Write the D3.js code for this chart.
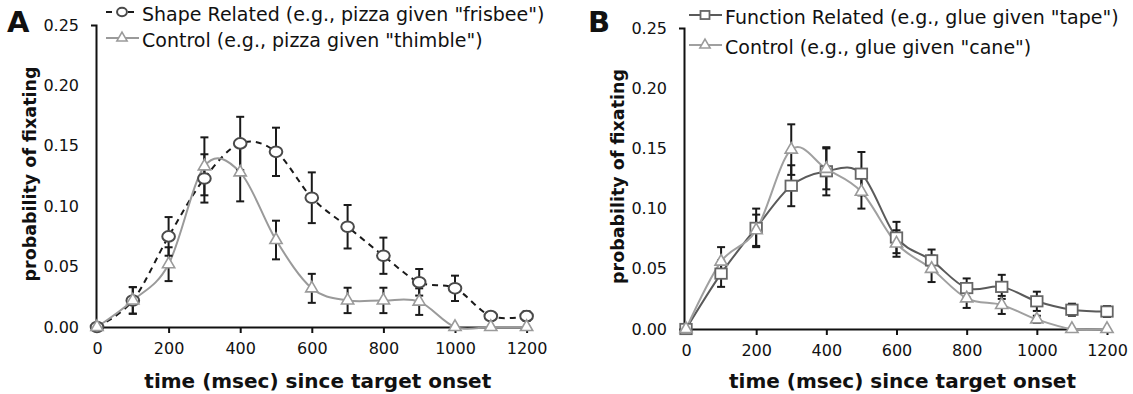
<!DOCTYPE html>
<html>
<meta charset="utf-8">
<style>
  body { margin: 0; background: #fff; }
  text { font-family: "DejaVu Sans", Verdana, sans-serif; fill: #111; }
</style>
<script src="https://d3js.org/d3.v7.min.js"></script>
<body>
<script>
  // time points (msec since target onset)
  var times = [0, 100, 200, 300, 400, 500, 600, 700, 800, 900, 1000, 1100, 1200];
  var xTicks = [0, 200, 400, 600, 800, 1000, 1200];
  var yTicks = [0, 0.05, 0.10, 0.15, 0.20, 0.25];

  // panel A
  var shapeRelated    = [0, 0.022, 0.075, 0.123, 0.152, 0.145, 0.107, 0.083, 0.059, 0.037, 0.032, 0.009, 0.009];
  var shapeRelatedErr = [0, 0.011, 0.016, 0.020, 0.022, 0.020, 0.021, 0.018, 0.015, 0.011, 0.0105, 0.002, 0.004];
  var controlA        = [0, 0.022, 0.052, 0.133, 0.128, 0.072, 0.032, 0.022, 0.022, 0.021, 0, 0, 0];
  var controlAErr     = [0, 0.011, 0.014, 0.024, 0.024, 0.016, 0.012, 0.0105, 0.0105, 0.011, 0, 0, 0];

  // panel B
  var functionRelated    = [0, 0.046, 0.084, 0.119, 0.131, 0.129, 0.076, 0.057, 0.034, 0.035, 0.023, 0.016, 0.0145];
  var functionRelatedErr = [0, 0.011, 0.016, 0.017, 0.020, 0.018, 0.013, 0.009, 0.008, 0.010, 0.008, 0.005, 0.0045];
  var controlB           = [0, 0.056, 0.082, 0.149, 0.133, 0.114, 0.071, 0.050, 0.0255, 0.020, 0.008, 0, 0];
  var controlBErr        = [0, 0.012, 0.013, 0.021, 0.017, 0.014, 0.011, 0.011, 0.008, 0.0075, 0.003, 0, 0];

  var svg = d3.select("body").append("svg")
    .attr("width", 1133)
    .attr("height", 394);

  function marker(sel, kind, size) {
    if (kind == "circle") {
      sel.append("ellipse").attr("rx", size * 0.55).attr("ry", size * 0.46)
        .attr("fill", "#fff").attr("stroke", "#4a4a4a").attr("stroke-width", 2);
    } else if (kind == "square") {
      sel.append("rect").attr("x", -size / 2).attr("y", -size * 0.45)
        .attr("width", size).attr("height", size * 0.9)
        .attr("fill", "#fff").attr("stroke", "#666").attr("stroke-width", 1.8);
    } else {
      sel.append("path").attr("d", d3.symbol(d3.symbolTriangle, size * size * 0.45)())
        .attr("fill", "#fff").attr("stroke", "#9a9a9a").attr("stroke-width", 1.6);
    }
  }

  function drawPanel(p) {
    var x = d3.scaleLinear().domain([0, 1200]).range([p.left, p.right]);
    var y = d3.scaleLinear().domain([0, 0.25]).range([p.bottom, p.top]);
    var g = svg.append("g");

    // axes
    var yAxis = g.append("g")
      .attr("transform", "translate(" + p.axisX + ",0)")
      .call(d3.axisLeft(y).tickValues(yTicks).tickSizeInner(0).tickSizeOuter(5)
        .tickPadding(17).tickFormat(d3.format(".2f")));
    var xAxis = g.append("g")
      .attr("transform", "translate(0," + p.bottom + ")")
      .call(d3.axisBottom(x).tickValues(xTicks).tickSizeInner(6).tickSizeOuter(0)
        .tickPadding(10).tickFormat(d3.format("d")));
    [xAxis, yAxis].forEach(function(a) {
      a.select(".domain").attr("stroke", "#111").attr("stroke-width", 2);
      a.selectAll(".tick line").attr("stroke", "#111").attr("stroke-width", 2);
      a.selectAll(".tick text").attr("font-size", 16).attr("fill", "#111")
        .attr("font-family", "DejaVu Sans, Verdana, sans-serif");
    });
    xAxis.selectAll(".tick line").filter(function(d) { return d === 0; }).remove();

    // titles
    g.append("text")
      .attr("x", p.letterX).attr("y", 32)
      .attr("font-size", 29).attr("font-weight", "bold")
      .text(p.letter);
    g.append("text")
      .attr("transform", "translate(" + (p.axisX - 60) + "," + ((p.top + p.bottom) / 2 - 2) + ") rotate(-90)")
      .attr("text-anchor", "middle")
      .attr("font-size", 17.5).attr("font-weight", "bold")
      .text("probability of fixating");
    g.append("text")
      .attr("x", (p.left + p.right) / 2 + 6).attr("y", 388)
      .attr("text-anchor", "middle")
      .attr("font-size", 20).attr("font-weight", "bold")
      .text("time (msec) since target onset");

    var line = d3.line()
      .x(function(d) { return x(d[0]); })
      .y(function(d) { return y(d[1]); })
      .curve(d3.curveCardinal.tension(0));

    p.series.forEach(function(s) {
      var pts = times.map(function(t, i) { return [t, s.values[i], s.err[i]]; });

      g.append("path")
        .datum(pts)
        .attr("d", line)
        .attr("fill", "none")
        .attr("stroke", s.lineColor)
        .attr("stroke-width", s.lineWidth)
        .attr("stroke-dasharray", s.dash);
    });

    p.series.forEach(function(s) {
      var pts = times.map(function(t, i) { return [t, s.values[i], s.err[i]]; });
      var eb = g.append("g").selectAll("g")
        .data(pts.filter(function(d) { return d[2] > 0; }))
        .enter().append("g")
        .attr("stroke", "#1a1a1a").attr("stroke-width", 2);
      eb.append("line")
        .attr("x1", function(d) { return x(d[0]); })
        .attr("x2", function(d) { return x(d[0]); })
        .attr("y1", function(d) { return y(d[1] - d[2]); })
        .attr("y2", function(d) { return y(d[1] + d[2]); });
      [-1, 1].forEach(function(sign) {
        eb.append("line")
          .attr("x1", function(d) { return x(d[0]) - 4; })
          .attr("x2", function(d) { return x(d[0]) + 4; })
          .attr("y1", function(d) { return y(d[1] + sign * d[2]); })
          .attr("y2", function(d) { return y(d[1] + sign * d[2]); });
      });
    });

    p.series.forEach(function(s) {
      times.forEach(function(t, i) {
        var m = g.append("g").attr("transform", "translate(" + x(t) + "," + y(s.values[i]) + ")");
        marker(m, s.kind, s.kind == "triangle" ? 12 : 11.5);
      });
    });

    // legend
    p.series.forEach(function(s, i) {
      var ly = p.legendY[i];
      g.append("line")
        .attr("x1", p.legendX).attr("x2", p.legendX + 33)
        .attr("y1", ly).attr("y2", ly)
        .attr("stroke", s.lineColor).attr("stroke-width", s.lineWidth)
        .attr("stroke-dasharray", s.dash);
      var m = g.append("g").attr("transform", "translate(" + (p.legendX + 16) + "," + ly + ")");
      marker(m, s.kind, s.kind == "triangle" ? 10 : 9);
      g.append("text")
        .attr("x", p.legendX + 36).attr("y", ly + 8.5)
        .attr("font-size", 19)
        .text(s.label);
    });
  }

  drawPanel({
    letter: "A", letterX: 7,
    left: 97, right: 526.6, top: 25, bottom: 327, axisX: 96,
    legendX: 106, legendY: [12, 38],
    series: [
      { label: "Shape Related (e.g., pizza given \"frisbee\")", kind: "circle",
        values: shapeRelated, err: shapeRelatedErr, lineColor: "#1a1a1a", lineWidth: 2, dash: "6,5" },
      { label: "Control (e.g., pizza given \"thimble\")", kind: "triangle",
        values: controlA, err: controlAErr, lineColor: "#9a9a9a", lineWidth: 2, dash: null }
    ]
  });

  drawPanel({
    letter: "B", letterX: 588,
    left: 686, right: 1107, top: 28, bottom: 329, axisX: 684,
    legendX: 689, legendY: [15, 45],
    series: [
      { label: "Function Related (e.g., glue given \"tape\")", kind: "square",
        values: functionRelated, err: functionRelatedErr, lineColor: "#5a5a5a", lineWidth: 2, dash: null },
      { label: "Control (e.g., glue given \"cane\")", kind: "triangle",
        values: controlB, err: controlBErr, lineColor: "#a0a0a0", lineWidth: 2, dash: null }
    ]
  });
</script>
</body>
</html>
